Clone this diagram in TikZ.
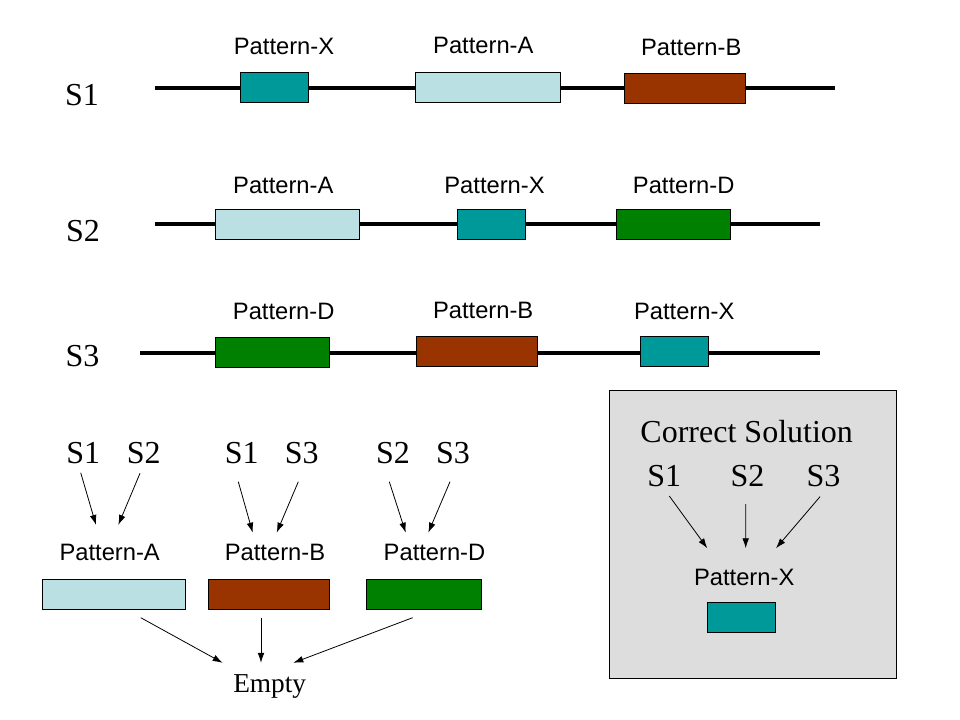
\documentclass[tikz,border=0pt]{standalone}
\usepackage{fontspec}
\setmainfont{Liberation Serif}
\setsansfont{Liberation Sans}
\usetikzlibrary{arrows.meta,calc}

\definecolor{patX}{HTML}{009999}
\definecolor{patA}{HTML}{BBE0E3}
\definecolor{patB}{HTML}{993300}
\definecolor{patD}{HTML}{008000}
\definecolor{solgray}{HTML}{DDDDDD}

\tikzset{
  plabel/.style={font=\sffamily\fontsize{17.8}{20}\selectfont, inner sep=0pt},
  slabel/.style={font=\fontsize{24}{28}\selectfont, inner sep=0pt},
  pbox/.style={draw=black, line width=0.75pt, minimum height=22.75pt, inner sep=0pt},
  xbox/.style={pbox, fill=patX, minimum width=51.25pt},
  abox/.style={pbox, fill=patA, minimum width=108.5pt},
  bbox/.style={pbox, fill=patB, minimum width=91pt},
  dbox/.style={pbox, fill=patD, minimum width=85.75pt},
  strand/.style={line width=3pt},
  arr/.style={-{Latex[length=7.5pt,width=5pt]}, line width=0.6pt}
}

\begin{document}
\begin{tikzpicture}[x=0.75pt,y=-0.75pt]
  \useasboundingbox (0,0) rectangle (960,720);
  %\draw[step=40,gray,very thin] (0,0) grid (960,720);

  % sequences
  \node[slabel] (s1) at (82,95) {S1};
  \node[slabel] (s2) at (83,231) {S2};
  \node[slabel] (s3) at (82.5,356) {S3};

  \draw[strand] (155,88) -- (835,88);
  \draw[strand] (155,224.3) -- (820,224.3);
  \draw[strand] (140,353) -- (820,353);

  \node[xbox] (r1x) at (274.2,87.3) {};
  \node[abox] (r1a) at (488.3,87.3) {};
  \node[bbox] (r1b) at (684.8,88.3) {};
  \node[plabel] (l1x) at (284,46.2) {Pattern-X};
  \node[plabel] (l1a) at (483.3,45.3) {Pattern-A};
  \node[plabel] (l1b) at (691.2,47) {Pattern-B};

  \node[abox] (r2a) at (287.5,224.3) {};
  \node[xbox] (r2x) at (491.5,224.3) {};
  \node[dbox] (r2d) at (673.3,224.3) {};
  \node[plabel] (l2a) at (283.3,185) {Pattern-A};
  \node[plabel] (l2x) at (494.5,185) {Pattern-X};
  \node[plabel] (l2d) at (683.7,185) {Pattern-D};

  \node[dbox] (r3d) at (272.2,352.8) {};
  \node[bbox] (r3b) at (476.7,351.4) {};
  \node[xbox] (r3x) at (674.2,351.7) {};
  \node[plabel] (l3d) at (283.7,311.7) {Pattern-D};
  \node[plabel] (l3b) at (483.2,310) {Pattern-B};
  \node[plabel] (l3x) at (684.2,311) {Pattern-X};

  % pairs
  \node[slabel] (p12a) at (83.3,453) {S1};
  \node[slabel] (p12b) at (143.7,453) {S2};
  \node[slabel] (p13a) at (241.7,453) {S1};
  \node[slabel] (p13b) at (301.7,453) {S3};
  \node[slabel] (p23a) at (393,453) {S2};
  \node[slabel] (p23b) at (453,453) {S3};

  \node[plabel] (pa) at (109.7,552.8) {Pattern-A};
  \node[plabel] (pb) at (275,552.8) {Pattern-B};
  \node[plabel] (pd) at (434.5,552.8) {Pattern-D};

  \draw[arr] ($(p12a.south)+(-2.6,8.7)$) -- ($(pa.north)+(-13.7,-19.3)$);
  \draw[arr] ($(p12b.south)+(-3.7,9.3)$) -- ($(pa.north)+(8.6,-19.3)$);
  \draw[arr] ($(p13a.south)+(-3.4,17.7)$) -- ($(pb.north)+(-22.3,-11.6)$);
  \draw[arr] ($(p13b.south)+(-3.4,17.7)$) -- ($(pb.north)+(1.7,-11.6)$);
  \draw[arr] ($(p23a.south)+(-3.7,17.7)$) -- ($(pd.north)+(-28.8,-11.6)$);
  \draw[arr] ($(p23b.south)+(-3,17.7)$) -- ($(pd.north)+(-6.2,-11.6)$);

  \node[abox, minimum width=107.5pt] (ba) at (114,594.7) {};
  \node[bbox] (bb) at (268.8,594.7) {};
  \node[dbox] (bd) at (424,594.7) {};

  \node[font=\fontsize{20.5}{24}\selectfont, inner sep=0pt, anchor=base] (empty) at (269.7,692) {Empty};

  \draw[arr] ($(ba.south)+(26.7,7.3)$) -- ($(empty.north)+(-47,-11)$);
  \draw[arr] ($(bb.south)+(-7.8,7.3)$) -- ($(empty.north)+(-8.7,-11)$);
  \draw[arr] ($(bd.south)+(-11.3,7.3)$) -- ($(empty.north)+(23.6,-11)$);

  % solution
  \draw[fill=solgray, line width=0.75pt] (609.3,390) rectangle (896,678);
  \node[font=\fontsize{24}{28}\selectfont, inner sep=0pt] (title) at (746.7,431.5) {Correct Solution};
  \node[slabel] (c1) at (664.3,476) {S1};
  \node[slabel] (c2) at (747.5,476) {S2};
  \node[slabel] (c3) at (823.5,476) {S3};
  \node[plabel] (px) at (744.2,577.5) {Pattern-X};
  \node[xbox] (bx) at (741.5,617.3) {};

  \draw[arr] ($(c1.south)+(5,9)$) -- ($(px.north)+(-36.9,-20.7)$);
  \draw[arr] ($(c2.south)+(-1.8,17)$) -- ($(px.north)+(1.5,-20.7)$);
  \draw[arr] ($(c3.south)+(-3.5,9.7)$) -- ($(px.north)+(31.8,-20.7)$);
\end{tikzpicture}
\end{document}
